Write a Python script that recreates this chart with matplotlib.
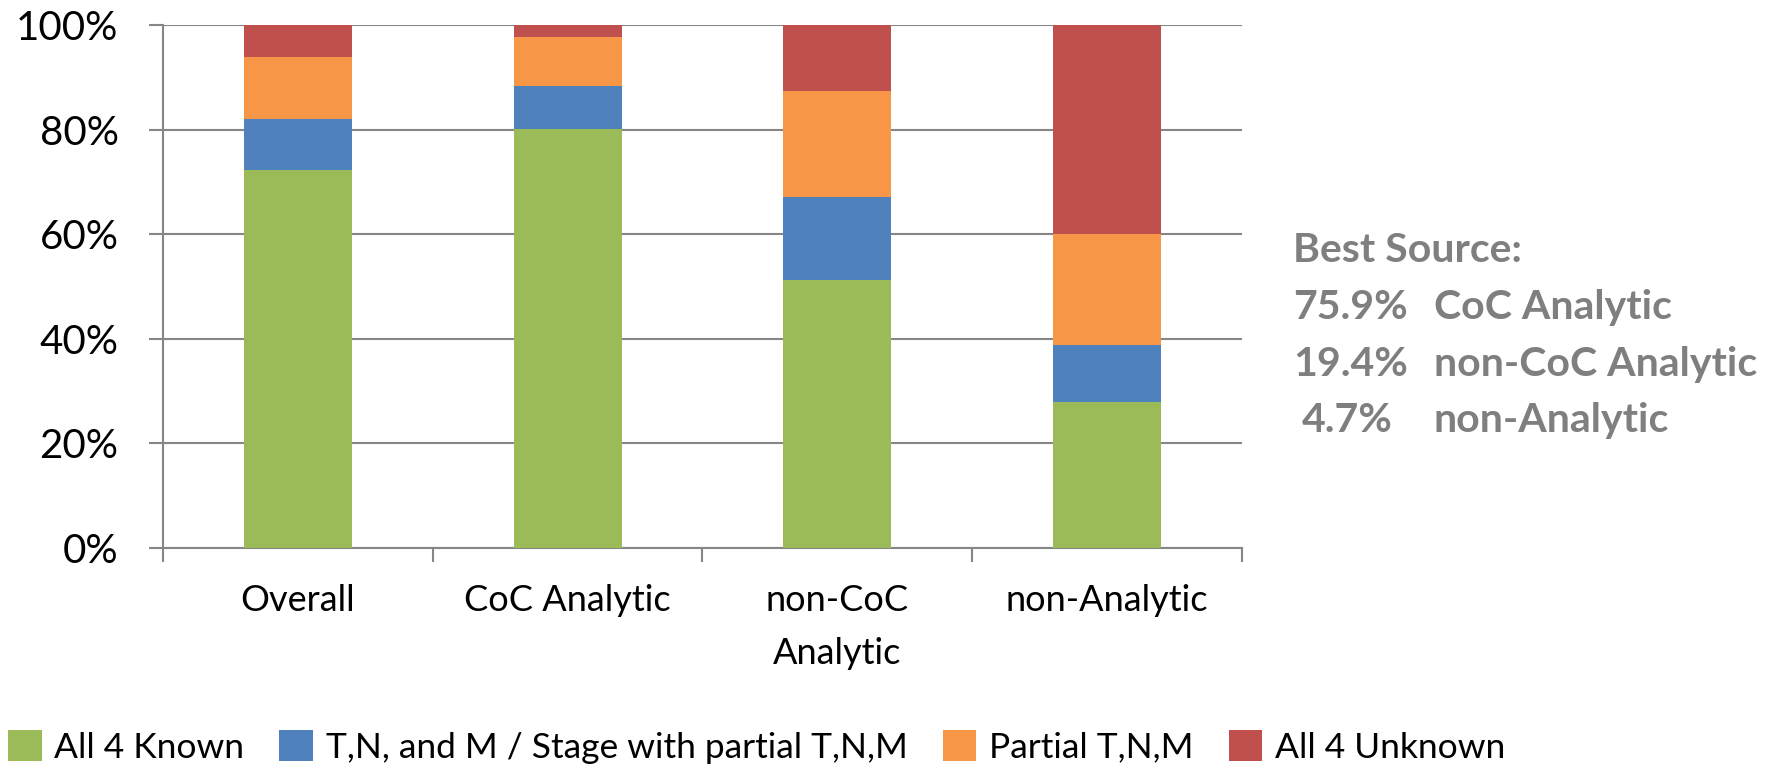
import numpy as np
import matplotlib.pyplot as plt
from matplotlib.patches import Patch
from matplotlib.ticker import FixedLocator, PercentFormatter

plt.rcParams['font.family'] = ['Lato', 'DejaVu Sans']

# values (percent of cases)
categories = ["Overall", "CoC Analytic", "non-CoC\nAnalytic", "non-Analytic"]
all_known = [72.2, 80.2, 51.3, 27.9]
stage_partial = [9.8, 8.1, 15.8, 11.0]
partial_tnm = [11.9, 9.4, 20.2, 21.2]
all_unknown = [6.1, 2.3, 12.7, 39.9]

series_names = ["All 4 Known", "T,N, and M / Stage with partial T,N,M",
                "Partial T,N,M", "All 4 Unknown"]
colors = ["#9BBB59", "#4F81BD", "#F79646", "#C0504D"]

best_pct = ["75.9%", "19.4%", "4.7%"]
best_src = ["CoC Analytic", "non-CoC Analytic", "non-Analytic"]

W, H = 1790, 767
fig = plt.figure(figsize=(W / 100, H / 100), dpi=100)
ax = fig.add_axes([163 / W, 1 - 548 / H, (1242 - 163) / W, (548 - 25) / H])

x = np.arange(len(categories))
bottom = np.zeros(len(categories))
for vals, name, c in zip([all_known, stage_partial, partial_tnm, all_unknown],
                         series_names, colors):
    ax.bar(x, vals, width=0.4, bottom=bottom, color=c, label=name, zorder=3)
    bottom += np.array(vals)

grid_c = "#868686"
ax.set_xlim(-0.5, len(categories) - 0.5)
ax.set_ylim(0, 100)
ax.set_yticks(np.arange(0, 101, 20))
ax.yaxis.set_major_formatter(PercentFormatter(decimals=0))
ax.grid(axis="y", color=grid_c, linewidth=1.5, zorder=0)
for s in ["top", "right"]:
    ax.spines[s].set_visible(False)
for s in ["left", "bottom"]:
    ax.spines[s].set_color(grid_c)
    ax.spines[s].set_linewidth(1.5)

ax.set_xticks(x)
ax.set_xticklabels(categories, fontsize=26, linespacing=1.75)
ax.xaxis.set_minor_locator(FixedLocator(np.arange(-0.5, len(categories), 1)))
ax.tick_params(axis="x", which="major", length=0, pad=26)
ax.tick_params(axis="x", which="minor", length=10, width=1.5, color=grid_c, direction="out")
ax.tick_params(axis="y", length=10, width=1.5, color=grid_c, pad=22, labelsize=29)

# best source note
gray = "#7F7F7F"
fig.text(1293 / W, 1 - 262 / H, "Best Source:", fontsize=29.5, fontweight="bold",
         color=gray, va="baseline")
pct_x = [1293, 1293, 1302]
base_y = [319, 376, 432]
for p, s, px, py in zip(best_pct, best_src, pct_x, base_y):
    fig.text(px / W, 1 - py / H, p, fontsize=29.5, fontweight="bold", color=gray, va="baseline")
    fig.text(1434 / W, 1 - py / H, s, fontsize=29.5, fontweight="bold", color=gray, va="baseline")

handles = [Patch(facecolor=c, edgecolor="none") for c in colors]
fig.legend(handles, series_names, loc="center left", bbox_to_anchor=(8 / W, 1 - 747 / H),
           ncol=4, frameon=False, fontsize=25.5, handlelength=0.95, handleheight=0.95,
           handletextpad=0.35, columnspacing=1.0, borderpad=0, borderaxespad=0)

fig.savefig("out.png", dpi=100)
